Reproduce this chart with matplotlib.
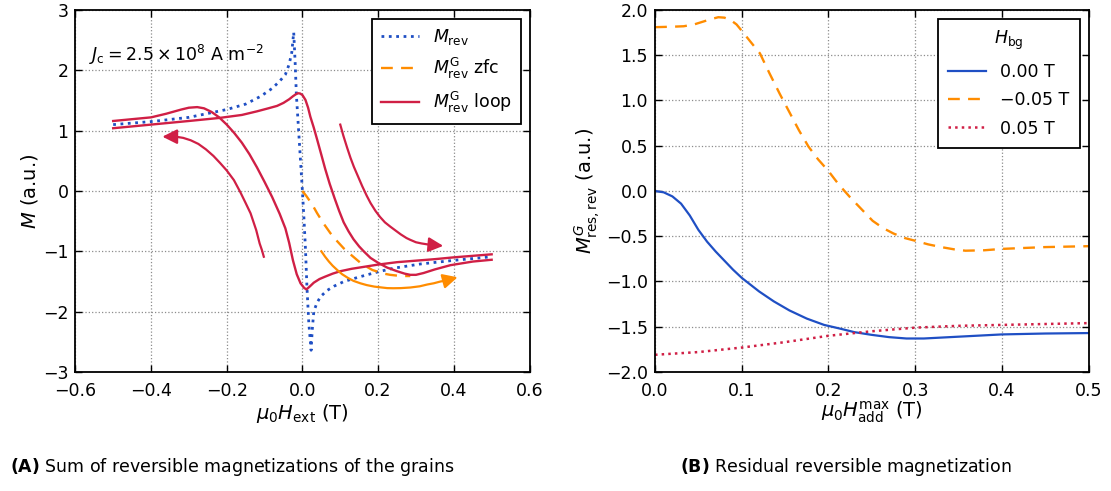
import matplotlib
matplotlib.use('Agg')
import matplotlib.pyplot as plt

plt.rcParams['font.family'] = ['DejaVu Sans']
plt.rcParams['mathtext.fontset'] = 'dejavusans'
plt.rcParams['axes.unicode_minus'] = True

BLUE = '#1f4fc4'
ORANGE = '#ff8c00'
RED = '#d01f45'

# ---- panel A data (mu0 H_ext in T, M in a.u.) ----
mrev_x = [-0.5, -0.4, -0.3, -0.2, -0.15, -0.11, -0.08, -0.06, -0.045, -0.035, -0.028, -0.023,
          -0.019, -0.016, -0.012, -0.008, -0.004, 0.0, 0.004, 0.008, 0.012, 0.017, 0.023,
          0.026, 0.03, 0.038, 0.048, 0.065, 0.083, 0.11, 0.153, 0.2, 0.241, 0.312, 0.4, 0.5]
mrev_y = [1.10, 1.15, 1.22, 1.35, 1.44, 1.57, 1.70, 1.82, 1.93, 2.10, 2.30, 2.63,
          2.10, 1.60, 1.20, 0.80, 0.40, 0.0, -0.45, -0.95, -1.60, -2.20, -2.64,
          -2.30, -2.00, -1.86, -1.75, -1.65, -1.58, -1.50, -1.42, -1.34, -1.28, -1.21, -1.15, -1.09]

loopA_x = [-0.5, -0.45, -0.4, -0.36, -0.32, -0.30, -0.278, -0.26, -0.24, -0.22, -0.20, -0.18,
           -0.16, -0.14, -0.12, -0.10, -0.08, -0.06, -0.045, -0.035, -0.025, -0.015, -0.005,
           0.005, 0.011, 0.02, 0.03, 0.045, 0.06, 0.08, 0.1, 0.13, 0.16, 0.2, 0.25, 0.3, 0.35,
           0.4, 0.45, 0.5]
loopA_y = [1.16, 1.19, 1.22, 1.28, 1.35, 1.38, 1.39, 1.37, 1.31, 1.22, 1.10, 0.96,
           0.80, 0.61, 0.39, 0.15, -0.10, -0.38, -0.62, -0.86, -1.15, -1.38, -1.53,
           -1.61, -1.63, -1.58, -1.52, -1.46, -1.42, -1.37, -1.33, -1.29, -1.26, -1.22, -1.18,
           -1.155, -1.13, -1.10, -1.075, -1.05]

loopB_x = [-0.5, -0.4, -0.3, -0.22, -0.16, -0.12, -0.09, -0.067, -0.05, -0.035, -0.025, -0.018,
           -0.012, -0.006, 0.0, 0.008, 0.015, 0.021, 0.03, 0.039, 0.05, 0.06, 0.072, 0.085, 0.097,
           0.109, 0.122, 0.135, 0.15, 0.162, 0.18, 0.2, 0.224, 0.25, 0.27, 0.285, 0.3, 0.32,
           0.35, 0.391, 0.45, 0.5]
loopB_y = [1.04, 1.10, 1.16, 1.21, 1.26, 1.32, 1.37, 1.41, 1.46, 1.52, 1.57, 1.60,
           1.62, 1.615, 1.59, 1.51, 1.38, 1.23, 1.05, 0.85, 0.60, 0.37, 0.12, -0.12, -0.33,
           -0.52, -0.67, -0.80, -0.92, -1.00, -1.11, -1.19, -1.27, -1.33, -1.37, -1.39, -1.39,
           -1.36, -1.30, -1.23, -1.17, -1.14]

zfc_x = [0.0, 0.01, 0.02, 0.03, 0.039, 0.048, 0.056, 0.065, 0.074, 0.09, 0.109, 0.125, 0.14,
         0.155, 0.171, 0.185, 0.2, 0.215, 0.232, 0.26, 0.285]
zfc_y = [0.0, -0.08, -0.17, -0.27, -0.37, -0.46, -0.54, -0.62, -0.70, -0.82, -0.95, -1.04, -1.12,
         -1.20, -1.26, -1.31, -1.34, -1.37, -1.39, -1.41, -1.41]

# guide arrows
arr1_x = [-0.102, -0.107, -0.113, -0.122, -0.137, -0.15, -0.164, -0.181, -0.2, -0.217, -0.235,
          -0.255, -0.275, -0.295, -0.315, -0.335]
arr1_y = [-1.09, -0.98, -0.87, -0.65, -0.37, -0.20, -0.02, 0.18, 0.34, 0.46, 0.58,
          0.69, 0.78, 0.84, 0.88, 0.90]
arr1_tip = (-0.37, 0.90)

arr2_x = [0.100, 0.108, 0.118, 0.127, 0.136, 0.147, 0.158, 0.170, 0.180, 0.193, 0.205, 0.218,
          0.232, 0.247, 0.26, 0.275, 0.285, 0.30, 0.315, 0.335]
arr2_y = [1.10, 0.92, 0.72, 0.55, 0.40, 0.24, 0.08, -0.08, -0.20, -0.33, -0.43, -0.52,
          -0.59, -0.66, -0.72, -0.78, -0.81, -0.85, -0.87, -0.89]
arr2_tip = (0.372, -0.91)

arr3_x = [0.050, 0.06, 0.07, 0.08, 0.092, 0.105, 0.12, 0.135, 0.153, 0.17, 0.19, 0.21, 0.224,
          0.24, 0.26, 0.285, 0.31, 0.33, 0.347, 0.365, 0.375]
arr3_y = [-1.00, -1.09, -1.17, -1.24, -1.31, -1.38, -1.44, -1.49, -1.53, -1.56, -1.585, -1.60,
          -1.61, -1.612, -1.61, -1.60, -1.58, -1.55, -1.53, -1.50, -1.49]
arr3_tip = (0.41, -1.43)

# ---- panel B data (mu0 H_add^max in T) ----
h0_x = [0, 0.01, 0.02, 0.03, 0.04, 0.05, 0.06, 0.07, 0.08, 0.09, 0.1, 0.12, 0.137, 0.155,
        0.175, 0.195, 0.213, 0.23, 0.25, 0.27, 0.29, 0.31, 0.33, 0.37, 0.4, 0.45, 0.5]
h0_y = [0, -0.015, -0.06, -0.14, -0.27, -0.43, -0.56, -0.67, -0.77, -0.87, -0.96, -1.11, -1.22,
        -1.32, -1.41, -1.48, -1.52, -1.56, -1.59, -1.615, -1.63, -1.63, -1.62, -1.60, -1.585,
        -1.575, -1.57]

hm_x = [0, 0.02, 0.033, 0.045, 0.055, 0.065, 0.073, 0.08, 0.087, 0.094, 0.1, 0.11, 0.121,
        0.132, 0.144, 0.155, 0.166, 0.177, 0.188, 0.2, 0.212, 0.225, 0.238, 0.251, 0.263,
        0.275, 0.288, 0.3, 0.315, 0.33, 0.345, 0.358, 0.38, 0.4, 0.45, 0.5]
hm_y = [1.81, 1.815, 1.82, 1.84, 1.87, 1.90, 1.92, 1.915, 1.89, 1.84, 1.77, 1.65, 1.52,
        1.30, 1.07, 0.87, 0.67, 0.49, 0.35, 0.22, 0.07, -0.07, -0.20, -0.33, -0.41,
        -0.47, -0.52, -0.55, -0.59, -0.62, -0.645, -0.66, -0.655, -0.64, -0.62, -0.61]

hp_x = [0, 0.05, 0.1, 0.15, 0.2, 0.25, 0.3, 0.35, 0.4, 0.45, 0.5]
hp_y = [-1.81, -1.78, -1.73, -1.67, -1.60, -1.55, -1.51, -1.49, -1.48, -1.47, -1.46]


def style_axes(ax):
    ax.tick_params(direction='in', top=True, right=True, length=5, width=1, labelsize=12.5)
    ax.tick_params(axis='x', pad=7)
    ax.tick_params(axis='y', pad=5)
    for sp in ax.spines.values():
        sp.set_linewidth(1.3)
    ax.grid(True, linestyle=':', color='0.55', linewidth=0.9)


def arrow_head(ax, x, y, tip, color):
    ax.annotate('', xy=tip, xytext=(x[-1], y[-1]),
                arrowprops=dict(arrowstyle='-|>', color=color, lw=1.6,
                                mutation_scale=22, shrinkA=0, shrinkB=0))


fig = plt.figure(figsize=(11.11, 4.91), dpi=100)
ax1 = fig.add_axes([0.0678, 0.2424, 0.4088, 0.7373])
ax2 = fig.add_axes([0.5896, 0.2424, 0.3902, 0.7373])

# panel A
ax1.plot(mrev_x, mrev_y, ':', color=BLUE, lw=2, label=r'$M_{\mathrm{rev}}$')
ax1.plot(zfc_x, zfc_y, '--', color=ORANGE, lw=1.7, dashes=(5, 3.5),
         label=r'$M_{\mathrm{rev}}^{\mathrm{G}}$ zfc')
ax1.plot(loopA_x, loopA_y, '-', color=RED, lw=1.7, label=r'$M_{\mathrm{rev}}^{\mathrm{G}}$ loop')
ax1.plot(loopB_x, loopB_y, '-', color=RED, lw=1.7)
ax1.plot(arr1_x, arr1_y, '-', color=RED, lw=1.6)
ax1.plot(arr2_x, arr2_y, '-', color=RED, lw=1.6)
ax1.plot(arr3_x, arr3_y, '-', color=ORANGE, lw=1.6)
arrow_head(ax1, arr1_x, arr1_y, arr1_tip, RED)
arrow_head(ax1, arr2_x, arr2_y, arr2_tip, RED)
arrow_head(ax1, arr3_x, arr3_y, arr3_tip, ORANGE)

ax1.set_xlim(-0.6, 0.6)
ax1.set_ylim(-3, 3)
ax1.set_xticks([-0.6, -0.4, -0.2, 0.0, 0.2, 0.4, 0.6])
ax1.set_yticks([-3, -2, -1, 0, 1, 2, 3])
style_axes(ax1)
ax1.set_xlabel(r'$\mu_0 H_{\mathrm{ext}}$ (T)', fontsize=14, labelpad=2)
ax1.set_ylabel(r'$M$ (a.u.)', fontsize=14, labelpad=2)
ax1.text(-0.565, 2.26, r'$J_{\mathrm{c}} = 2.5 \times 10^{8}$ A m$^{-2}$', fontsize=12.5,
         ha='left', va='center')
leg1 = ax1.legend(loc='upper right', fontsize=12.5, fancybox=False, edgecolor='black',
                  framealpha=1, handlelength=2.2, borderpad=0.5, labelspacing=0.5)
leg1.get_frame().set_linewidth(1.3)

# panel B
ax2.plot(h0_x, h0_y, '-', color=BLUE, lw=1.6, label='0.00 T')
ax2.plot(hm_x, hm_y, '--', color=ORANGE, lw=1.7, dashes=(5, 3.5), label='\u22120.05 T')
ax2.plot(hp_x, hp_y, ':', color=RED, lw=1.8, label='0.05 T')
ax2.set_xlim(0, 0.5)
ax2.set_ylim(-2, 2)
ax2.set_yticks([-2.0, -1.5, -1.0, -0.5, 0.0, 0.5, 1.0, 1.5, 2.0])
style_axes(ax2)
ax2.set_xlabel(r'$\mu_0 H_{\mathrm{add}}^{\mathrm{max}}$ (T)', fontsize=14, labelpad=0)
ax2.set_ylabel(r'$M^{G}_{\mathrm{res,rev}}$ (a.u.)', fontsize=14, labelpad=2)
leg2 = ax2.legend(loc='upper right', title=r'$H_{\mathrm{bg}}$', title_fontsize=12.5, fontsize=12.5,
                  fancybox=False, edgecolor='black', framealpha=1, handlelength=2.2,
                  borderpad=0.6, labelspacing=0.6)
leg2.get_frame().set_linewidth(1.3)

fig.text(0.209, 0.049, r'$\mathbf{(A)}$ Sum of reversible magnetizations of the grains',
         fontsize=12.5, ha='center', va='center')
fig.text(0.761, 0.049, r'$\mathbf{(B)}$ Residual reversible magnetization',
         fontsize=12.5, ha='center', va='center')

fig.savefig('out.png', dpi=100)
